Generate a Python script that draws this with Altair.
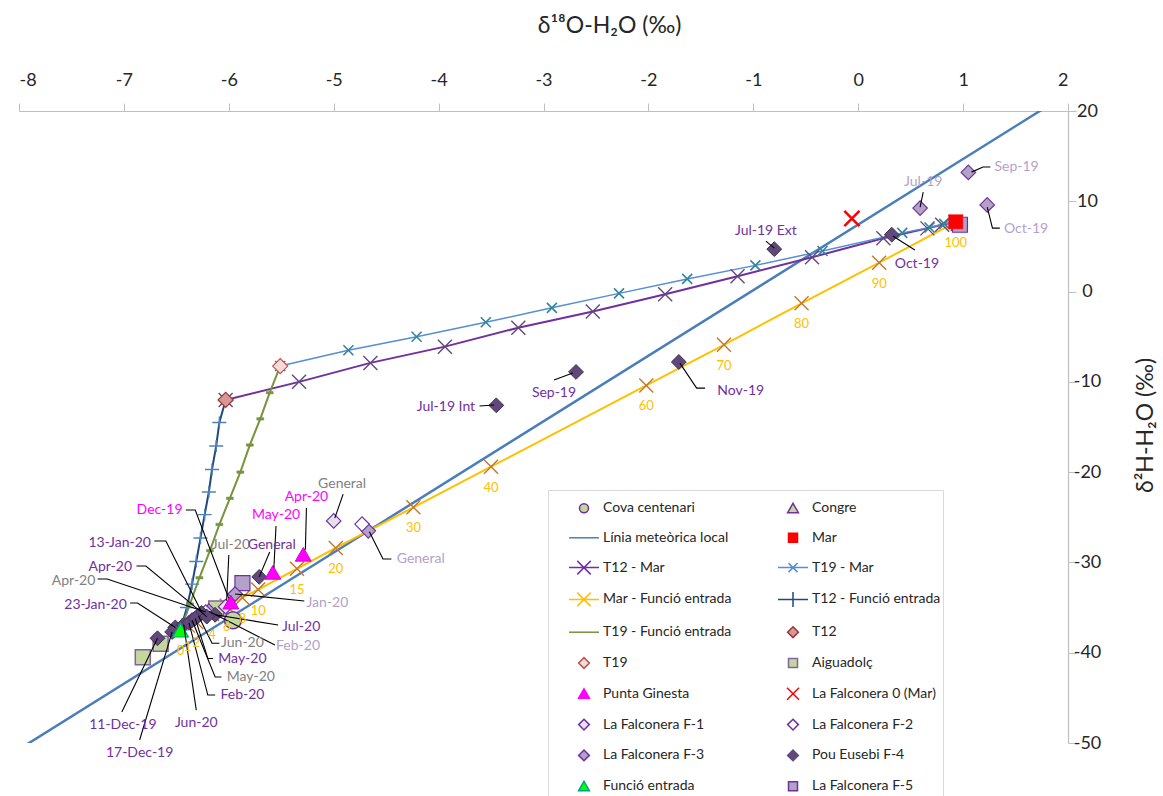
import altair as alt
import pandas as pd

FONT = "Lato"

# ---------------- axes ----------------
x_ticks = [-8, -7, -6, -5, -4, -3, -2, -1, 0, 1, 2]
y_ticks = [-50, -40, -30, -20, -10, 0, 10, 20]

# ---------------- local meteoric water line ----------------
lmwl_x = [-8.0, 1.8]
lmwl_y = [-50.7, 20.5]

# ---------------- mixing lines ----------------
t12mar_x = [-6.03, -5.33, -4.65, -3.94, -3.24, -2.53, -1.84, -1.15, -0.44, 0.24, 0.66, 0.80, 0.93]
t12mar_y = [-12.0, -10.0, -7.9, -6.1, -4.0, -2.2, -0.3, 1.7, 3.8, 5.9, 7.0, 7.4, 7.7]
t19mar_x = [-5.51, -4.86, -4.21, -3.55, -2.92, -2.28, -1.63, -0.98, -0.34, 0.42, 0.68, 0.82, 0.93]
t19mar_y = [-8.25, -6.5, -5.0, -3.4, -1.8, -0.2, 1.4, 2.9, 4.5, 6.5, 7.1, 7.5, 7.7]
mf_pct = ["0", "1", "2", "4", "6", "8", "10", "15", "20", "30", "40", "60", "70", "80", "90", "100"]
mf_x = [-6.46, -6.39, -6.31, -6.16, -6.02, -5.87, -5.72, -5.35, -4.98, -4.24, -3.50, -2.02, -1.28, -0.54, 0.20, 0.93]
mf_y = [-37.5, -37.0, -36.6, -35.7, -34.8, -33.9, -33.0, -30.7, -28.4, -23.9, -19.4, -10.4, -5.9, -1.3, 3.2, 7.7]
t12fe_x = [-6.03, -6.09, -6.12, -6.16, -6.19, -6.23, -6.27, -6.31, -6.35, -6.40, -6.46]
t12fe_y = [-12.0, -14.5, -17.1, -19.7, -22.2, -24.7, -27.3, -29.9, -32.4, -35.0, -37.5]
t19fe_x = [-5.51, -5.61, -5.70, -5.80, -5.89, -5.99, -6.09, -6.18, -6.28, -6.37, -6.46]
t19fe_y = [-8.25, -11.2, -14.1, -17.0, -20.0, -22.9, -25.8, -28.7, -31.7, -34.6, -37.5]

# ---------------- sample points ----------------
aigua_x = [-6.82, -6.65, -6.12]
aigua_y = [-40.5, -39.0, -35.1]
cova_x = [-5.96]
cova_y = [-36.4]
congre_x = [0.96]
congre_y = [7.5]
f5_x = [-5.87, 0.97]
f5_y = [-32.3, 7.4]
f3_x = [1.05, 1.23, 0.59, -4.67, -5.94, -6.19]
f3_y = [13.2, 9.6, 9.25, -26.5, -33.5, -35.4]
f2_x = [-4.73]
f2_y = [-25.75]
f1_x = [-5.00, -6.03, -6.22, -6.29, -6.35]
f1_y = [-25.4, -34.9, -35.5, -35.9, -36.4]
f4_x = [-0.80, -3.45, -2.69, -1.71, 0.32, -5.71, -6.13, -6.26, -6.21, -6.51, -6.68, -6.54, -6.43, -6.38, -6.32]
f4_y = [4.7, -12.6, -8.9, -7.8, 6.3, -31.6, -35.8, -35.6, -36.0, -37.2, -38.4, -37.7, -36.9, -36.7, -36.2]
pg_x = [-5.29, -5.58, -5.98]
pg_y = [-29.1, -31.1, -34.4]
fe_x = [-6.46]
fe_y = [-37.5]
t12_x = [-6.03]
t12_y = [-12.0]
t19_x = [-5.51]
t19_y = [-8.25]
mar_x = [0.93]
mar_y = [7.73]
falc0_x = [-0.06]
falc0_y = [8.1]

# ---------------- data labels ----------------
P, L, G, M = "#7030a0", "#b3a2c7", "#7f7f7f", "#ff00ff"
lab_text = ["Dec-19", "13-Jan-20", "Apr-20", "Apr-20", "23-Jan-20", "11-Dec-19", "17-Dec-19",
            "Jun-20", "Feb-20", "May-20", "May-20", "Jun-20", "Feb-20", "Jul-20", "Jan-20",
            "Jul-20", "General", "May-20", "Apr-20", "General", "General",
            "Jul-19 Int", "Sep-19", "Nov-19", "Jul-19 Ext", "Oct-19", "Jul-19", "Sep-19", "Oct-19"]
lab_color = [M, P, P, G, P, P, P, P, P, G, P, G, L, P, L, G, P, M, M, G, L, P, P, P, P, P, L, L, L]
lab_x = [-6.66, -7.04, -7.13, -7.48, -7.27, -7.01, -6.85, -6.31, -5.87, -5.79, -5.87, -5.87, -5.34,
         -5.31, -5.06, -5.98, -5.59, -5.55, -5.26, -4.92, -4.17, -3.93, -2.90, -1.12, -0.88, 0.56,
         0.62, 1.51, 1.60]
lab_y = [-24.2, -27.85, -30.51, -32.06, -34.72, -48.01, -51.11, -47.79, -44.69, -42.69, -40.75,
         -38.95, -39.26, -37.15, -34.5, -28.07, -28.07, -24.75, -22.76, -21.32, -29.62, -12.79,
         -11.24, -11.02, 6.7, 3.05, 12.13, 13.79, 6.92]
leaders = [
    [(-6.41, -24.2), (-6.32, -24.2), (-6.00, -34.0)],
    [(-6.71, -27.63), (-6.60, -27.63), (-6.26, -35.5)],
    [(-6.88, -30.40), (-6.79, -30.40), (-6.21, -36.0)],
    [(-7.25, -31.84), (-7.16, -31.84), (-6.22, -35.5)],
    [(-6.94, -34.50), (-6.87, -34.50), (-6.51, -37.2)],
    [(-7.02, -46.57), (-6.68, -38.4)],
    [(-6.85, -49.67), (-6.54, -37.7)],
    [(-6.31, -46.35), (-6.43, -36.9)],
    [(-6.13, -44.69), (-6.20, -44.69), (-6.38, -36.7)],
    [(-6.07, -42.69), (-6.13, -42.69), (-6.35, -36.4)],
    [(-6.15, -40.64), (-6.20, -40.64), (-6.32, -36.2)],
    [(-6.09, -38.95), (-6.16, -38.95), (-6.29, -35.9)],
    [(-5.56, -39.15), (-6.19, -35.4)],
    [(-5.53, -36.93), (-6.13, -35.8)],
    [(-5.28, -34.27), (-5.94, -33.5)],
    [(-6.00, -29.18), (-6.02, -34.2)],
    [(-5.61, -28.85), (-5.71, -31.6)],
    [(-5.55, -25.97), (-5.57, -30.6)],
    [(-5.26, -23.98), (-5.27, -28.6)],
    [(-4.91, -22.43), (-4.99, -25.1)],
    [(-4.45, -29.62), (-4.53, -29.62), (-4.66, -26.6)],
    [(-3.61, -12.68), (-3.47, -12.57)],
    [(-2.90, -9.80), (-2.72, -9.02)],
    [(-1.46, -10.69), (-1.54, -10.69), (-1.70, -7.92)],
    [(-0.88, 5.59), (-0.80, 4.82)],
    [(0.33, 6.15), (0.54, 4.60)],
    [(0.62, 11.02), (0.59, 9.36)],
    [(1.26, 13.79), (1.19, 13.79), (1.08, 13.23)],
    [(1.35, 7.03), (1.28, 7.03), (1.23, 9.36)],
]

# ---------------- legend (listed column by column: left column, then right column) ----------------
CIRC = "M-0.3,0A0.3,0.3,0,1,0,0.3,0A0.3,0.3,0,1,0,-0.3,0Z"
TRI = "M0,-0.33L0.36,0.3L-0.36,0.3Z"
SQR = "M-0.3,-0.3H0.3V0.3H-0.3Z"
DIA = "M0,-0.36L0.36,0L0,0.36L-0.36,0Z"
LINE = "M-1,0H1"
LINEX = "M-1,0H1M-0.45,-0.45L0.45,0.45M-0.45,0.45L0.45,-0.45"
LINEXS = "M-1,0H1M-0.3,-0.3L0.3,0.3M-0.3,0.3L0.3,-0.3"
LINEP = "M-1,0H1M0,-0.5V0.5"
REDX = "M-0.4,-0.4L0.4,0.4M-0.4,0.4L0.4,-0.4"
leg_series = ["Cova centenari", "Línia meteòrica local", "T12 - Mar", "Mar - Funció entrada",
              "T19 - Funció entrada", "T19", "Punta Ginesta", "La Falconera F-1",
              "La Falconera F-3", "Funció entrada",
              "Congre", "Mar", "T19 - Mar", "T12 - Funció entrada", "T12", "Aiguadolç",
              "La Falconera 0 (Mar)", "La Falconera F-2", "Pou Eusebi F-4", "La Falconera F-5"]
leg_shapes = [CIRC, LINE, LINEX, LINEX, LINE, DIA, TRI, DIA, DIA, TRI,
              TRI, SQR, LINEXS, LINEP, DIA, SQR, REDX, DIA, DIA, SQR]
leg_fill = ["#c4d79b", "transparent", "transparent", "transparent", "transparent", "#f2dcdb",
            "#ff00ff", "#e6e0ec", "#b3a2c7", "#00ff00",
            "#c4d79b", "#ff0000", "transparent", "transparent", "#d99694", "#c4d79b",
            "transparent", "#ffffff", "#60497a", "#b3a2c7"]
leg_stroke = ["#7030a0", "#4a7ebb", "#7030a0", "#ffc000", "#77933c", "#c0504d", "#ff00ff",
              "#7030a0", "#7030a0", "#00a08a",
              "#7030a0", "#ff0000", "#558ed5", "#1f497d", "#953735", "#8064a2", "#ff0000",
              "#7030a0", "#60497a", "#7030a0"]

# ---------------- chart ----------------
xscale = alt.Scale(domain=[-8, 2], nice=False, zero=False)
yscale = alt.Scale(domain=[-50, 20], nice=False, zero=False)
xaxis = alt.Axis(orient="top", values=x_ticks, title="δ¹⁸O-H₂O (‰)", grid=False,
                 domainColor="#bfbfbf", tickColor="#bfbfbf", tickSize=8, domainWidth=1.2,
                 labelFont=FONT, labelFontSize=18, labelColor="#262626", labelPadding=14,
                 labelExpr="datum.value + ''",
                 titleFont=FONT, titleFontSize=23, titleFontWeight="normal", titleColor="#262626",
                 titleX=590, titleY=-86, titleBaseline="middle", titleAlign="center")
yaxis = alt.Axis(orient="right", values=y_ticks, title="δ²H-H₂O (‰)", grid=False,
                 domainColor="#bfbfbf", tickColor="#bfbfbf", tickSize=8, domainWidth=1.2,
                 labelFont=FONT, labelFontSize=18, labelColor="#262626", labelPadding=11,
                 labelAlign="center", labelExpr="datum.value + ''",
                 titleFont=FONT, titleFontSize=23, titleFontWeight="normal", titleColor="#262626",
                 titleAngle=270, titleX=77, titleY=314, titleBaseline="middle", titleAlign="center")

X = alt.X("x:Q", scale=xscale, axis=xaxis)
Y = alt.Y("y:Q", scale=yscale, axis=yaxis)


def df(xs, ys):
    return pd.DataFrame({"x": xs, "y": ys, "o": list(range(len(xs)))})


def line(xs, ys, color, width):
    return alt.Chart(df(xs, ys)).mark_line(color=color, strokeWidth=width, clip=True).encode(
        x=X, y=Y, order="o:Q")


def pts(xs, ys, shape, fill, stroke, size, sw=1.0):
    return alt.Chart(df(xs, ys)).mark_point(shape=shape, filled=True, fill=fill, stroke=stroke,
                                            strokeWidth=sw, size=size, opacity=1).encode(x=X, y=Y)


def marks(xs, ys, shape, color, size, sw=1.3):
    return alt.Chart(df(xs, ys)).mark_point(shape=shape, filled=False, color=color,
                                            strokeWidth=sw, size=size, opacity=1).encode(x=X, y=Y)


XP = "M-1,-1L1,1M-1,1L1,-1"
PLUS = "M-1,0H1M0,-0.85V0.85"
DASH = "M-1,-0.35H1V0.35H-1Z"

layers = [
    line(lmwl_x, lmwl_y, "#4a7ebb", 2.5),
    line(t12mar_x, t12mar_y, "#7030a0", 2),
    line(t19mar_x, t19mar_y, "#558ed5", 1.5),
    line(mf_x, mf_y, "#ffc000", 2),
    line(t12fe_x, t12fe_y, "#1f497d", 2),
    line(t19fe_x, t19fe_y, "#77933c", 2),
    marks(t12mar_x, t12mar_y, XP, "#604a7b", 196, 1.4),
    marks(t19mar_x, t19mar_y, XP, "#31859c", 100, 1.6),
    marks(mf_x, mf_y, XP, "#c2772f", 196, 1.4),
    marks(t12fe_x, t12fe_y, PLUS, "#4f81bd", 196, 1.4),
    pts(t19fe_x, t19fe_y, DASH, "#77933c", "#77933c", 49, 0.5),
    pts(aigua_x, aigua_y, "square", "#c4d79b", "#8064a2", 225, 1.5),
    pts(cova_x, cova_y, "circle", "#c4d79b", "#7030a0", 290, 1.5),
    pts(congre_x, congre_y, "triangle-up", "#c4d79b", "#7030a0", 230, 1.2),
    pts(f5_x, f5_y, "square", "#b3a2c7", "#7030a0", 225, 1.2),
    pts(f3_x, f3_y, "diamond", "#b3a2c7", "#7030a0", 210, 1.2),
    pts(f2_x, f2_y, "diamond", "#ffffff", "#7030a0", 210, 1.2),
    pts(f1_x, f1_y, "diamond", "#e6e0ec", "#7030a0", 210, 1.2),
    pts(f4_x, f4_y, "diamond", "#60497a", "#403152", 220, 1.0),
    pts(pg_x, pg_y, "triangle-up", "#ff00ff", "#d000d0", 250, 1.0),
    pts(fe_x, fe_y, "triangle-up", "#00ff00", "#00a08a", 250, 1.2),
    pts(t12_x, t12_y, "diamond", "#d99694", "#953735", 230, 1.2),
    pts(t19_x, t19_y, "diamond", "#f2dcdb", "#c0504d", 230, 1.2),
    pts(mar_x, mar_y, "square", "#ff0000", "#ff0000", 200, 0.5),
    marks(falc0_x, falc0_y, XP, "#ff0000", 230, 2.5),
]

# leader lines
rows = []
for i, pl in enumerate(leaders):
    for j, (a, b) in enumerate(pl):
        rows.append({"lid": i, "o": j, "x": a, "y": b})
leader_df = pd.DataFrame(rows)
layers.append(alt.Chart(leader_df).mark_line(color="black", strokeWidth=1.1).encode(
    x=X, y=Y, detail="lid:N", order="o:Q"))

lab_df = pd.DataFrame({"t": lab_text, "x": lab_x, "y": lab_y, "c": lab_color})
layers.append(alt.Chart(lab_df).mark_text(font=FONT, fontSize=14, baseline="middle").encode(
    x=X, y=Y, text="t:N", color=alt.Color("c:N", scale=None)))

pct_df = pd.DataFrame({"t": mf_pct, "x": mf_x, "y": mf_y})
layers.append(alt.Chart(pct_df).mark_text(font=FONT, fontSize=13, dy=21, color="#ffc000").encode(
    x=X, y=Y, text="t:N"))

leg = alt.Legend(orient="none", legendX=529, legendY=379, columns=2, title=None,
                 symbolSize=900, symbolStrokeWidth=1.5, symbolOpacity=1,
                 labelFont=FONT, labelFontSize=14, labelColor="#262626", labelOffset=3,
                 labelLimit=300, columnPadding=27, rowPadding=5.8, padding=2, symbolOffset=18,
                 strokeColor="#d9d9d9", fillColor="white")
leg_df = pd.DataFrame({"series": leg_series, "x": [-7.9] * len(leg_series), "y": [19] * len(leg_series)})
layers.append(alt.Chart(leg_df).mark_point(opacity=0, filled=True).encode(
    x=X, y=Y,
    shape=alt.Shape("series:N", scale=alt.Scale(domain=leg_series, range=leg_shapes), legend=leg),
    fill=alt.Fill("series:N", scale=alt.Scale(domain=leg_series, range=leg_fill), legend=leg),
    stroke=alt.Stroke("series:N", scale=alt.Scale(domain=leg_series, range=leg_stroke), legend=leg),
))

chart = alt.layer(*layers).properties(
    width=1049, height=632,
    autosize=alt.AutoSizeParams(type="none"),
    padding={"left": 19, "top": 111, "right": 95, "bottom": 53},
    background="white",
).configure_view(stroke=None)

chart.save("out.html", embed_options={"renderer": "svg", "actions": False})
